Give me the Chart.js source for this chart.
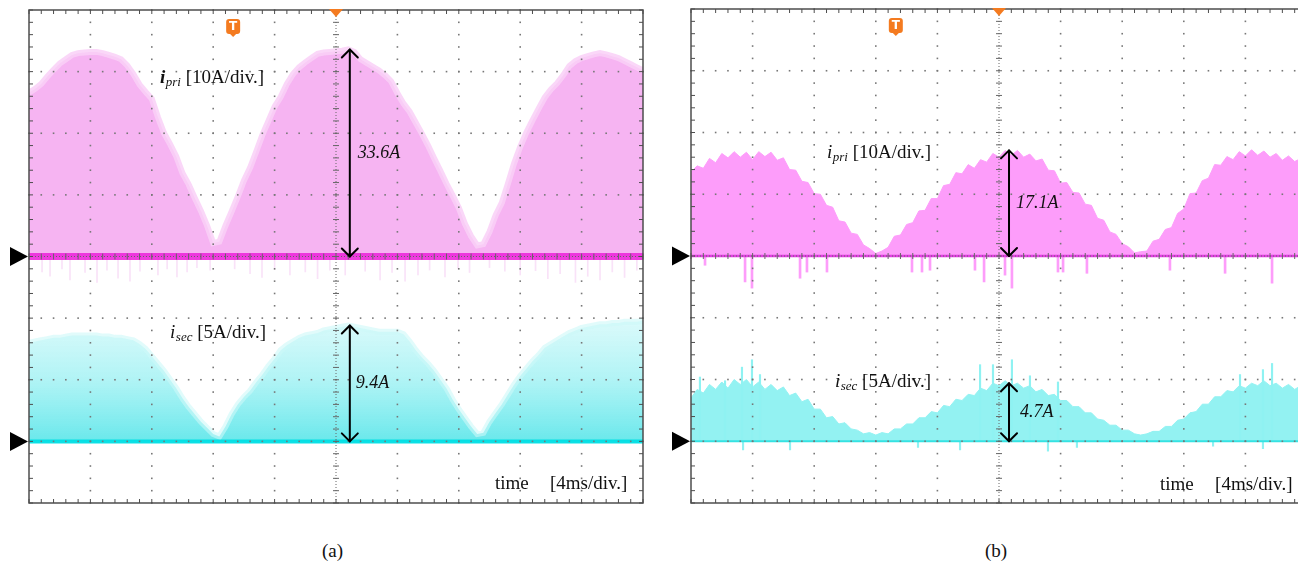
<!DOCTYPE html>
<html>
<head>
<meta charset="utf-8">
<script src="https://cdn.jsdelivr.net/npm/chart.js@4.4.1/dist/chart.umd.min.js"></script>
<style>
  html, body { margin: 0; padding: 0; background: #fff; overflow: hidden; width: 1298px; height: 565px; }
  #wrap { position: relative; width: 1298px; height: 565px; overflow: hidden; }
  canvas { position: absolute; top: 0; }
  #scopeA { left: 0; }
  #scopeB { left: 665px; }
  .cap { position: absolute; top: 540px; font: 19px "Liberation Serif", "Times New Roman", serif; line-height: 22px; color: #111; }
</style>
</head>
<body>
<div id="wrap">
  <canvas id="scopeA" width="660" height="520"></canvas>
  <canvas id="scopeB" width="655" height="520"></canvas>
  <div class="cap" style="left:322px">(a)</div>
  <div class="cap" style="left:985px">(b)</div>
</div>
<script>
// ---- time base: 10 divisions x 4 ms, one sample every 0.4 ms ----
const T_STEP = 0.4;
const timeDivs = [0, 4, 8, 12, 16, 20, 24, 28, 32, 36, 40];          // ms
const priDivs  = [-40, -30, -20, -10, 0, 10, 20, 30, 40];             // A, 10 A/div
const secDivs  = [-5, 0, 5, 10, 15, 20, 25, 30, 35];                  // A, 5 A/div
const trigTime = 13.3;                                                 // ms

// ---- (a) primary current envelope [A] ----
const aPri = [
  26.6, 27.2, 28.0, 29.2, 30.3, 31.3, 32.0, 32.7, 33.0, 33.1,
  33.2, 33.2, 33.0, 32.7, 32.4, 32.0, 31.0, 29.6, 27.9, 26.7,
  25.6, 22.6, 20.0, 18.2, 16.2, 13.5, 11.7, 9.5, 7.4, 5.0,
  2.2, 2.4, 5.0, 7.3, 9.7, 12.3, 14.4, 17.0, 19.7, 22.0,
  24.3, 25.9, 28.0, 29.6, 30.7, 31.5, 32.2, 32.9, 33.1, 33.2,
  33.3, 33.4, 33.6, 33.2, 32.0, 31.4, 30.8, 30.2, 29.4, 28.4,
  26.5, 24.8, 23.5, 21.7, 19.9, 18.0, 15.9, 13.9, 11.8, 9.9,
  7.9, 5.3, 3.3, 1.8, 2.0, 4.0, 6.7, 8.7, 11.8, 15.1,
  17.8, 20.1, 22.1, 24.0, 25.8, 27.1, 28.1, 29.4, 30.9, 31.7,
  32.2, 32.5, 32.8, 33.0, 32.8, 32.5, 32.2, 31.7, 31.2, 30.7,
  30.2
];
// ---- (a) secondary current envelope [A] ----
const aSec = [
  8.0, 8.1, 8.2, 8.3, 8.4, 8.4, 8.5, 8.6, 8.6, 8.6,
  8.6, 8.6, 8.5, 8.5, 8.4, 8.4, 8.3, 8.2, 7.9, 7.5,
  6.9, 6.3, 5.7, 5.0, 4.3, 3.5, 2.8, 2.2, 1.6, 1.1,
  0.6, 0.4, 1.2, 2.2, 3.0, 3.6, 4.1, 4.8, 5.4, 6.1,
  6.7, 7.4, 7.8, 8.1, 8.4, 8.6, 8.7, 8.8, 9.0, 9.1,
  9.2, 9.3, 9.4, 9.3, 9.2, 9.1, 9.0, 8.9, 8.9, 8.9,
  8.9, 8.7, 8.1, 7.4, 6.8, 6.3, 5.7, 5.0, 4.3, 3.4,
  2.6, 1.9, 1.2, 0.6, 0.7, 1.6, 2.3, 3.0, 3.8, 4.6,
  5.3, 5.9, 6.5, 7.0, 7.6, 7.9, 8.2, 8.5, 8.8, 9.0,
  9.2, 9.3, 9.4, 9.5, 9.5, 9.6, 9.6, 9.7, 9.7, 9.7,
  9.8
];
// ---- (a) switching ringing below the primary zero line ----
const aPriRingT = [0.85, 1.37, 2.15, 2.67, 3.65, 4.43, 5.08, 5.8, 6.58, 7.23, 8.4, 9.0, 9.64, 10.3, 10.94, 11.8,
  13.4, 14.4, 15.18, 16.0, 17.0, 18.0, 18.8, 19.6, 20.6, 21.9, 22.87, 23.65, 24.5, 25.34, 26.1, 27.1, 27.95, 28.7,
  30.0, 31.0, 32.0, 33.0, 33.8, 34.6, 35.6, 36.4, 37.2, 38.0, 38.8, 39.6];
const aPriRingV = [-2.5, -3.2, -2.0, -3.8, -2.6, -4.2, -2.2, -3.5, -4.0, -2.4, -3.0, -2.0, -3.3, -2.5, -1.8, -2.2,
  -2.0, -2.8, -3.4, -2.1, -3.0, -2.5, -3.6, -2.2, -3.0, -2.4, -3.8, -2.6, -4.0, -3.0, -2.2, -3.3, -2.0, -2.6,
  -1.8, -2.4, -3.0, -2.3, -3.6, -2.8, -4.2, -3.2, -3.8, -2.5, -3.4, -2.2];

// ---- (b) primary current envelope [A] ----
const bPri = [
  13.6, 14.6, 14.2, 15.8, 15.1, 16.6, 15.9, 16.9, 16.0, 16.8,
  15.6, 16.9, 16.1, 16.8, 15.5, 15.9, 14.0, 13.9, 12.1, 11.9,
  10.1, 10.0, 8.2, 7.9, 5.7, 5.5, 3.7, 3.5, 1.8, 1.2,
  0.4, 0.8, 1.4, 3.2, 3.4, 5.1, 5.4, 7.3, 7.4, 9.3,
  9.3, 11.4, 11.6, 13.5, 13.3, 14.8, 14.2, 15.6, 15.2, 16.6,
  16.0, 17.1, 16.3, 17.1, 16.0, 16.5, 15.4, 15.7, 13.9, 13.8,
  11.8, 11.9, 10.3, 10.2, 8.4, 8.2, 6.1, 5.8, 3.9, 3.5,
  2.0, 1.5, 0.5, 0.7, 0.8, 2.4, 2.7, 4.3, 4.6, 6.9,
  7.6, 10.1, 10.2, 12.2, 12.6, 14.8, 14.7, 16.1, 15.6, 16.9,
  16.2, 17.2, 16.3, 17.0, 16.0, 16.6, 15.5, 16.2, 15.3, 15.8,
  15.0
];
// ---- (b) secondary current envelope [A] ----
const bSec = [
  3.5, 4.2, 3.9, 4.6, 4.2, 4.8, 4.3, 5.0, 4.6, 5.0,
  4.4, 4.8, 4.2, 4.6, 4.1, 4.4, 3.7, 3.9, 3.2, 3.4,
  2.6, 2.6, 1.9, 2.0, 1.4, 1.5, 1.0, 0.9, 0.6, 0.7,
  0.5, 0.7, 0.6, 1.0, 1.0, 1.4, 1.4, 1.9, 1.9, 2.4,
  2.3, 2.9, 2.8, 3.4, 3.3, 3.8, 3.7, 4.3, 4.1, 4.7,
  4.5, 4.9, 4.5, 4.7, 4.3, 4.5, 4.0, 4.2, 3.7, 3.8,
  3.3, 3.3, 2.8, 2.8, 2.3, 2.3, 1.8, 1.7, 1.3, 1.3,
  0.9, 0.9, 0.6, 0.5, 0.6, 0.8, 0.8, 1.2, 1.2, 1.7,
  1.8, 2.3, 2.4, 3.0, 3.0, 3.6, 3.6, 4.1, 4.0, 4.5,
  4.3, 4.7, 4.5, 4.9, 4.5, 4.7, 4.3, 4.6, 4.2, 4.5,
  4.1
];
// ---- (b) isolated spikes ----
const bPriSpikeT = [0.91, 3.51, 3.96, 7.08, 7.53, 8.83, 14.35, 15.0, 15.52, 18.44, 19.03, 20.39, 20.84, 23.83, 24.16, 25.71, 31.1, 34.68, 37.73];
const bPriSpikeV = [-1.5, -4.2, -5.2, -3.6, -2.6, -2.6, -2.6, -2.6, -2.3, -2.3, -4.2, -3.1, -5.2, -2.6, -2.6, -2.8, -2.3, -2.8, -4.4];
const bSecSpikeT = [0.58, 2.21, 3.31, 3.96, 4.48, 18.77, 19.61, 20.84, 22.01, 23.83, 35.65, 37.14, 37.73,
  3.38, 6.43, 14.74, 17.47, 23.18, 25.06, 33.9, 37.14];
const bSecSpikeV = [5.2, 4.9, 6.0, 6.6, 5.4, 6.2, 6.2, 6.6, 5.3, 4.8, 5.4, 5.8, 6.3,
  -0.7, -0.7, -0.5, -0.7, -0.8, -0.5, -0.4, -0.6];

// ---- measured peak values shown with arrows ----
const peakA = { pri: 33.6, sec: 9.4, at: 20.9 };
const peakB = { pri: 17.1, sec: 4.7, at: 20.65 };

// ---------------------------------------------------------------
const sampleTime = k => Math.round(k * T_STEP * 10) / 10;
const pts  = vals => vals.map((v, k) => ({ x: sampleTime(k), y: v }));
const bars = (ts, vs) => ts.map((t, k) => ({ x: t, y: [0, vs[k]] }));
const zeroLine = [{ x: 0, y: 0 }, { x: 40, y: 0 }];

function seg(ctx, x0, y0, x1, y1) { ctx.beginPath(); ctx.moveTo(x0, y0); ctx.lineTo(x1, y1); ctx.stroke(); }

function drawGraticule(ctx, a, xs, yp) {
  const xp = timeDivs.map(t => xs.getPixelForValue(t));
  const yq = priDivs.map(v => yp.getPixelForValue(v));
  const cx = xs.getPixelForValue(20), cy = yp.getPixelForValue(0);
  const dxs = (xp[1] - xp[0]) / 5, dys = Math.abs(yq[1] - yq[0]) / 5;
  ctx.fillStyle = '#777';
  for (let i = 1; i < xp.length - 1; i++) {
    if (i === 5) continue;
    for (let y = a.top; y <= a.bottom + 0.5; y += dys) ctx.fillRect(xp[i] - 0.8, y - 0.8, 1.6, 1.6);
  }
  for (let j = 1; j < yq.length - 1; j++) {
    if (j === 4) continue;
    for (let x = a.left; x <= a.right + 0.5; x += dxs) ctx.fillRect(x - 0.8, yq[j] - 0.8, 1.6, 1.6);
  }
  // centre axes with sub-division ticks
  ctx.strokeStyle = '#666'; ctx.lineWidth = 1;
  ctx.setLineDash([1, 2]);
  seg(ctx, cx, a.top, cx, a.bottom); seg(ctx, a.left, cy, a.right, cy);
  ctx.setLineDash([]);
  for (let y = a.top; y <= a.bottom + 0.5; y += dys) seg(ctx, cx - 3, y, cx + 3, y);
  for (let x = a.left; x <= a.right + 0.5; x += dxs) seg(ctx, x, cy - 3, x, cy + 3);
  // frame with inward ticks
  ctx.strokeStyle = '#4d4d4d'; ctx.lineWidth = 1.5;
  ctx.strokeRect(a.left, a.top, a.right - a.left, a.bottom - a.top);
  ctx.lineWidth = 1;
  for (let x = a.left; x <= a.right + 0.5; x += dxs) { seg(ctx, x, a.top, x, a.top + 4); seg(ctx, x, a.bottom, x, a.bottom - 4); }
  for (let y = a.top; y <= a.bottom + 0.5; y += dys) { seg(ctx, a.left, y, a.left + 4, y); seg(ctx, a.right, y, a.right - 4, y); }
}

function drawChannelMarker(ctx, x, y) {
  ctx.fillStyle = '#000';
  ctx.beginPath(); ctx.moveTo(x - 1, y); ctx.lineTo(x - 19, y - 9.5); ctx.lineTo(x - 19, y + 9.5); ctx.closePath(); ctx.fill();
}

function drawTrigger(ctx, x, top) {
  ctx.fillStyle = '#f47b20';
  const w = 14, h = 15, y = top + 9;
  ctx.beginPath();
  ctx.roundRect(x - w / 2, y, w, h, 3);
  ctx.fill();
  ctx.beginPath(); ctx.moveTo(x - 4, y + h - 1); ctx.lineTo(x + 4, y + h - 1); ctx.lineTo(x, y + h + 3); ctx.closePath(); ctx.fill();
  ctx.fillStyle = '#fff';
  ctx.font = 'bold 12px "DejaVu Sans", sans-serif';
  ctx.textAlign = 'center'; ctx.textBaseline = 'middle';
  ctx.fillText('T', x, y + h / 2 + 0.5);
}

function drawPosMarker(ctx, x, top) {
  ctx.fillStyle = '#f47b20';
  ctx.beginPath(); ctx.moveTo(x - 7, top - 1); ctx.lineTo(x + 7, top - 1); ctx.lineTo(x, top + 7); ctx.closePath(); ctx.fill();
}

function drawArrow(ctx, x, y0, y1) {
  ctx.strokeStyle = '#000'; ctx.lineWidth = 2; ctx.lineCap = 'round'; ctx.lineJoin = 'round';
  seg(ctx, x, y0, x, y1);
  ctx.beginPath();
  ctx.moveTo(x - 8, y1 + 8); ctx.lineTo(x, y1); ctx.lineTo(x + 8, y1 + 8);
  ctx.moveTo(x - 8, y0 - 8); ctx.lineTo(x, y0); ctx.lineTo(x + 8, y0 - 8);
  ctx.stroke();
  ctx.lineCap = 'butt';
}

function drawChannelLabel(ctx, x, y, sub, rest, boldI) {
  ctx.fillStyle = '#111'; ctx.textAlign = 'left'; ctx.textBaseline = 'alphabetic';
  ctx.font = (boldI ? 'bold ' : '') + 'italic 19px "Liberation Serif"';
  ctx.fillText('i', x, y);
  let w = ctx.measureText('i').width + 0.5;
  ctx.font = 'italic 13px "Liberation Serif"';
  ctx.fillText(sub, x + w, y + 3);
  w += ctx.measureText(sub).width;
  ctx.font = '19px "Liberation Serif"';
  ctx.fillText(' ' + rest, x + w, y);
}

const scopePlugin = {
  id: 'scope',
  afterDatasetsDraw(chart, _args, o) {
    const { ctx, chartArea: a } = chart;
    const xs = chart.scales.x, yp = chart.scales.yp, ys = chart.scales.ys;
    ctx.save();
    drawGraticule(ctx, a, xs, yp);
    drawChannelMarker(ctx, a.left, yp.getPixelForValue(0));
    drawChannelMarker(ctx, a.left, ys.getPixelForValue(0));
    drawTrigger(ctx, xs.getPixelForValue(trigTime), a.top);
    drawPosMarker(ctx, xs.getPixelForValue(20), a.top);

    // peak-to-zero arrows with their values
    const ax = xs.getPixelForValue(o.peak.at);
    ctx.font = 'italic 18px "Liberation Serif"';
    ctx.textAlign = 'left'; ctx.textBaseline = 'middle'; ctx.fillStyle = '#111';
    const p0 = yp.getPixelForValue(0), p1 = yp.getPixelForValue(o.peak.pri);
    drawArrow(ctx, ax, p0, p1);
    ctx.fillText(o.peak.pri.toFixed(1) + 'A', ax + o.priLabelGap, (p0 + p1) / 2);
    const s0 = ys.getPixelForValue(0), s1 = ys.getPixelForValue(o.peak.sec);
    drawArrow(ctx, ax, s0, s1);
    ctx.font = 'italic 18px "Liberation Serif"';
    ctx.fillText(o.peak.sec.toFixed(1) + 'A', ax + o.secLabelGap, (s0 + s1) / 2);

    // channel and time-base captions
    drawChannelLabel(ctx, xs.getPixelForValue(o.priLabel[0]), yp.getPixelForValue(o.priLabel[1]), 'pri', '[10A/div.]', o.boldPri);
    drawChannelLabel(ctx, xs.getPixelForValue(o.secLabel[0]), ys.getPixelForValue(o.secLabel[1]), 'sec', '[5A/div.]', false);
    ctx.font = '19px "Liberation Serif"'; ctx.textBaseline = 'alphabetic'; ctx.fillStyle = '#111';
    const ty = ys.getPixelForValue(o.timeLabel[2]);
    ctx.fillText('time', xs.getPixelForValue(o.timeLabel[0]), ty);
    ctx.fillText('[4ms/div.]', xs.getPixelForValue(o.timeLabel[1]), ty);
    ctx.restore();
  }
};

function secGradient(stops) {
  return c => {
    const ch = c.chart;
    if (!ch.chartArea) return stops[0];
    const s = ch.scales.ys;
    const g = ch.ctx.createLinearGradient(0, s.getPixelForValue(0), 0, s.getPixelForValue(10));
    stops.forEach((col, i) => g.addColorStop(i / (stops.length - 1), col));
    return g;
  };
}

function scopeChart(id, padding, datasets, scopeOpts) {
  return new Chart(document.getElementById(id), {
    type: 'line',
    data: { datasets },
    options: {
      responsive: false, animation: false, events: [],
      layout: { padding },
      elements: { point: { radius: 0 }, line: { tension: 0 } },
      plugins: { legend: { display: false }, tooltip: { enabled: false }, scope: scopeOpts },
      scales: {
        x:  { type: 'linear', min: 0, max: 40, display: false, offset: false },
        yp: { type: 'linear', min: -40, max: 40, display: false },
        ys: { type: 'linear', min: -5, max: 35, display: false }
      }
    },
    plugins: [scopePlugin]
  });
}

// ---- (a) ----
scopeChart('scopeA', { left: 29, top: 10, right: 17, bottom: 17 }, [
  { type: 'line', data: zeroLine, yAxisID: 'yp', borderColor: 'rgba(236,40,218,0.9)', borderWidth: 7, fill: false, order: 1 },
  { type: 'line', data: zeroLine, yAxisID: 'ys', borderColor: 'rgba(0,222,228,0.95)', borderWidth: 4, fill: false, order: 2 },
  { type: 'bar', data: bars(aPriRingT, aPriRingV), yAxisID: 'yp', backgroundColor: 'rgba(232,140,226,0.25)', barThickness: 1, grouped: false, order: 3 },
  { type: 'line', data: pts(aSec), yAxisID: 'ys', fill: 'origin',
    backgroundColor: secGradient(['rgba(80,228,232,0.85)', 'rgba(150,240,242,0.75)', 'rgba(205,248,249,0.7)']),
    borderColor: 'rgba(205,248,249,0.6)', borderWidth: 6, order: 4 },
  { type: 'line', data: pts(aPri), yAxisID: 'yp', fill: 'origin', backgroundColor: 'rgb(246,180,242)',
    borderColor: 'rgba(249,208,247,0.85)', borderWidth: 6, order: 5 }
], {
  peak: peakA, priLabelGap: 8, secLabelGap: 6, boldPri: true,
  priLabel: [8.53, 28.2], secLabel: [9.19, 8.36], timeLabel: [30.36, 33.94, -3.9]
});

// ---- (b) ----
scopeChart('scopeB', { left: 26, top: 9, right: 13, bottom: 17 }, [
  { type: 'line', data: zeroLine, yAxisID: 'yp', borderColor: '#e23ee2', borderWidth: 2.5, fill: false, order: 1 },
  { type: 'line', data: zeroLine, yAxisID: 'ys', borderColor: '#35e2e2', borderWidth: 2, fill: false, order: 2 },
  { type: 'bar', data: bars(bPriSpikeT, bPriSpikeV), yAxisID: 'yp', backgroundColor: '#fd9dfa', barThickness: 2, grouped: false, order: 3 },
  { type: 'bar', data: bars(bSecSpikeT, bSecSpikeV), yAxisID: 'ys', backgroundColor: '#8ff2f2', barThickness: 1.5, grouped: false, order: 4 },
  { type: 'line', data: pts(bSec), yAxisID: 'ys', fill: 'origin', backgroundColor: '#93f2f2', borderColor: '#93f2f2', borderWidth: 1, order: 5 },
  { type: 'line', data: pts(bPri), yAxisID: 'yp', fill: 'origin', backgroundColor: '#fd9dfa', borderColor: '#fd9dfa', borderWidth: 1, order: 6 }
], {
  peak: peakB, priLabelGap: 7, secLabelGap: 11, boldPri: false,
  priLabel: [8.83, 15.9], secLabel: [9.35, 4.38], timeLabel: [30.45, 34.03, -3.97]
});
</script>
</body>
</html>
